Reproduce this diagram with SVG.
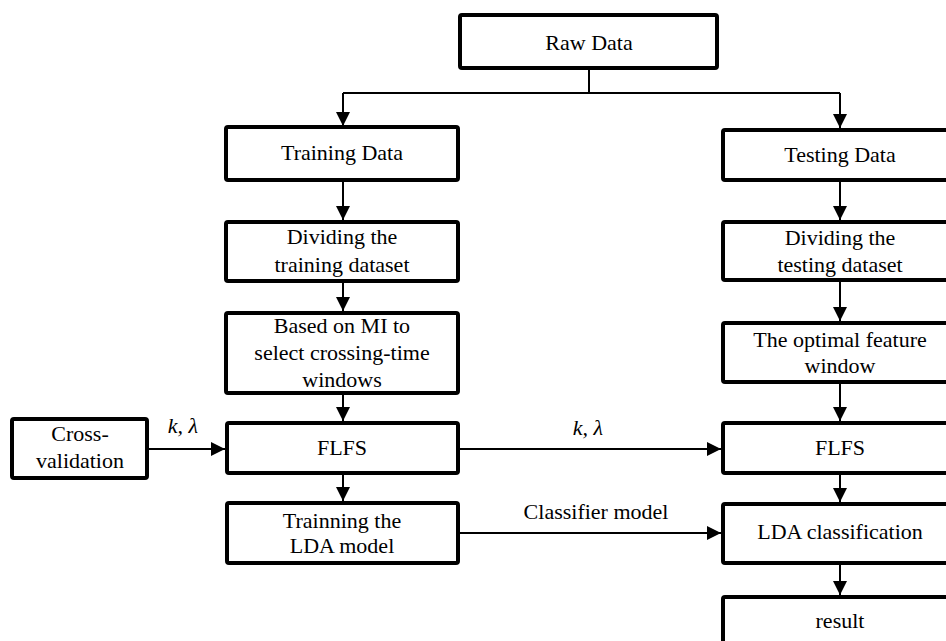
<svg xmlns="http://www.w3.org/2000/svg" width="946" height="641" viewBox="0 0 946 641" font-family="Liberation Serif, serif">
<style>
.box{fill:#fff;stroke:#000;stroke-width:4;}
.t{font-size:22px;fill:#000;text-anchor:middle;}
.it{font-style:italic;font-size:22px;}
.ln{stroke:#000;stroke-width:2;fill:none;}
</style>
<defs>
<marker id="ah" markerUnits="userSpaceOnUse" markerWidth="15" markerHeight="15" refX="14" refY="7.5" orient="auto">
<path d="M0,0.5 L14,7.5 L0,14.5 z" fill="#000"/>
</marker>
</defs>
<rect width="946" height="641" fill="#fff"/>
<g id="connectors">
<path class="ln" d="M589,68 V93 M343,93 H840"/>
<path class="ln" d="M343,93 V126" marker-end="url(#ah)"/>
<path class="ln" d="M840,93 V128" marker-end="url(#ah)"/>
<path class="ln" d="M343,181 V220" marker-end="url(#ah)"/>
<path class="ln" d="M343,283 V311" marker-end="url(#ah)"/>
<path class="ln" d="M343,395 V421" marker-end="url(#ah)"/>
<path class="ln" d="M343,475 V501" marker-end="url(#ah)"/>
<path class="ln" d="M147,449 H225" marker-end="url(#ah)"/>
<path class="ln" d="M458,449 H721" marker-end="url(#ah)"/>
<path class="ln" d="M458,533 H721" marker-end="url(#ah)"/>
<path class="ln" d="M840,182 V220" marker-end="url(#ah)"/>
<path class="ln" d="M840,282 V321" marker-end="url(#ah)"/>
<path class="ln" d="M840,384 V421" marker-end="url(#ah)"/>
<path class="ln" d="M840,475 V502" marker-end="url(#ah)"/>
<path class="ln" d="M840,565 V595" marker-end="url(#ah)"/>
<text class="t it" x="183" y="433">k, λ</text>
<text class="t it" x="588" y="435">k, λ</text>
<text class="t" x="596" y="519">Classifier model</text>
</g>
<g id="raw"><rect class="box" x="460" y="15" width="257" height="53" rx="2"/><text class="t" x="589" y="50">Raw Data</text></g>
<g id="train"><rect class="box" x="226" y="127" width="232" height="53" rx="2"/><text class="t" x="342" y="160">Training Data</text></g>
<g id="divtrain"><rect class="box" x="226" y="222" width="232" height="59" rx="2"/><text class="t" x="342" y="244">Dividing the</text><text class="t" x="342" y="272">training dataset</text></g>
<g id="mi"><rect class="box" x="226" y="313" width="232" height="80" rx="2"/><text class="t" x="342" y="333">Based on MI to</text><text class="t" x="342" y="360">select crossing-time</text><text class="t" x="342" y="387">windows</text></g>
<g id="cv"><rect class="box" x="12" y="419" width="135" height="59" rx="2"/><text class="t" x="80" y="441">Cross-</text><text class="t" x="80" y="468">validation</text></g>
<g id="flfs1"><rect class="box" x="227" y="423" width="231" height="50" rx="2"/><text class="t" x="342" y="455">FLFS</text></g>
<g id="lda1"><rect class="box" x="227" y="503" width="231" height="60" rx="2"/><text class="t" x="342" y="528">Trainning the</text><text class="t" x="342" y="553">LDA model</text></g>
<g id="test"><rect class="box" x="723" y="130" width="234" height="50" rx="2"/><text class="t" x="840" y="162">Testing Data</text></g>
<g id="divtest"><rect class="box" x="723" y="222" width="234" height="58" rx="2"/><text class="t" x="840" y="245">Dividing the</text><text class="t" x="840" y="272">testing dataset</text></g>
<g id="opt"><rect class="box" x="723" y="323" width="234" height="59" rx="2"/><text class="t" x="840" y="347">The optimal feature</text><text class="t" x="840" y="373">window</text></g>
<g id="flfs2"><rect class="box" x="723" y="423" width="234" height="50" rx="2"/><text class="t" x="840" y="455">FLFS</text></g>
<g id="lda2"><rect class="box" x="723" y="504" width="234" height="59" rx="2"/><text class="t" x="840" y="539">LDA classification</text></g>
<g id="result"><rect class="box" x="723" y="597" width="234" height="60" rx="2"/><text class="t" x="840" y="628">result</text></g>
</svg>
